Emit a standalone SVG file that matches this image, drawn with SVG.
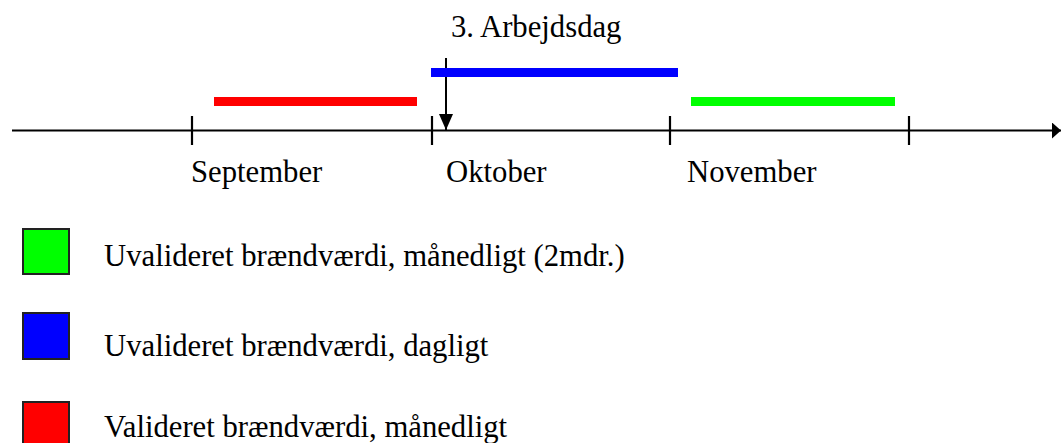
<svg xmlns="http://www.w3.org/2000/svg" width="1061" height="443" viewBox="0 0 1061 443">
<style>
text{font-family:"Liberation Serif","Times New Roman",serif;font-size:30.7px;fill:#000}
.tick{stroke:#000;stroke-width:2.2}
.sw{stroke:#222;stroke-width:2}
</style>
<defs>
<marker id="ah" markerWidth="9" markerHeight="16" refX="9" refY="8" orient="auto" markerUnits="userSpaceOnUse">
<path d="M0,0 L9,8 L0,16 Z" fill="#000"/>
</marker>
<marker id="dn" markerWidth="14" markerHeight="16" refX="7" refY="16" orient="0" markerUnits="userSpaceOnUse">
<path d="M0,0 L14,0 L7,16 Z" fill="#000"/>
</marker>
</defs>
<rect width="1061" height="443" fill="#fff"/>
<g id="connectors">
<line x1="12" y1="130.5" x2="1061" y2="130.5" stroke="#000" stroke-width="1.8" marker-end="url(#ah)"/>
<line class="tick" x1="192" y1="116" x2="192" y2="145"/>
<line class="tick" x1="432" y1="116" x2="432" y2="145"/>
<line class="tick" x1="670" y1="116" x2="670" y2="145"/>
<line class="tick" x1="909" y1="116" x2="909" y2="145"/>
<line x1="446" y1="58" x2="446" y2="130" stroke="#000" stroke-width="2" marker-end="url(#dn)"/>
</g>
<g id="bar-red"><rect x="214" y="97" width="203" height="9" fill="#ff0000"/></g>
<g id="bar-blue"><rect x="431" y="68" width="247" height="9" fill="#0000ff"/></g>
<g id="bar-green"><rect x="691" y="97" width="204" height="9" fill="#00ff00"/></g>
<g id="label-arbejdsdag"><text x="451" y="37">3. Arbejdsdag</text></g>
<g id="month-sep"><text x="191" y="182">September</text></g>
<g id="month-okt"><text x="446" y="182">Oktober</text></g>
<g id="month-nov"><text x="687" y="182">November</text></g>
<g id="legend-green">
<rect class="sw" x="23" y="229" width="46" height="45" fill="#00ff00"/>
<text x="104" y="266">Uvalideret brændværdi, månedligt (2mdr.)</text>
</g>
<g id="legend-blue">
<rect class="sw" x="23" y="313" width="46" height="46" fill="#0000ff"/>
<text x="104" y="356">Uvalideret brændværdi, dagligt</text>
</g>
<g id="legend-red">
<rect class="sw" x="23" y="402" width="46" height="46" fill="#ff0000"/>
<text x="104" y="437">Valideret brændværdi, månedligt</text>
</g>
</svg>
